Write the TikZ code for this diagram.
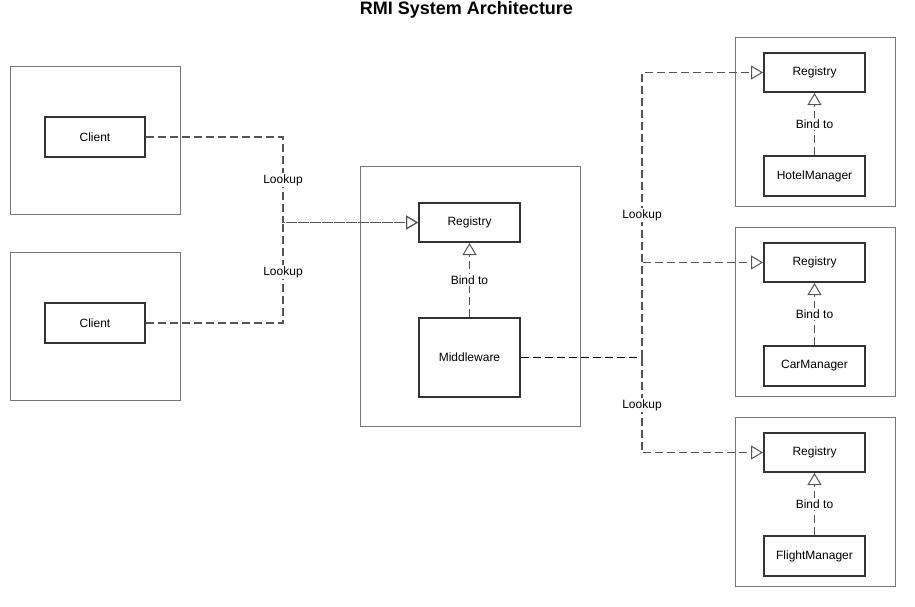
\documentclass[tikz,border=0pt]{standalone}
\usepackage{fontspec}
\setmainfont{Liberation Sans}
\usetikzlibrary{arrows.meta}
\definecolor{outerc}{HTML}{777777}
\definecolor{innerc}{HTML}{333333}
\definecolor{linec}{HTML}{555555}
\tikzset{
  outerbox/.style={draw=outerc, line width=1pt, fill=none, inner sep=0pt},
  innerbox/.style={draw=innerc, line width=2pt, fill=white, inner sep=0pt, font=\fontsize{12}{14}\selectfont},
  lookline/.style={draw=linec, line width=1.4pt, dash pattern=on 8pt off 4pt},
  midline/.style={draw=black, line width=1.6pt, dash pattern=on 8pt off 4pt},
  bindline/.style={draw=linec, line width=1.4pt, dash pattern=on 8pt off 4pt},
  opentip/.style={-{Triangle[open, length=12pt, width=14pt, line width=1pt]}},
  lbl/.style={fill=white, inner sep=1.5pt, font=\fontsize{12}{14}\selectfont, text=black},
}
\begin{document}
\begin{tikzpicture}[x=1pt, y=-1pt]
\useasboundingbox (0,0) rectangle (915,606);
% title
\node[font=\bfseries\fontsize{18}{20}\selectfont] (title) at (466.5,10) {RMI System Architecture};
% outer boxes
\node[outerbox, minimum width=170pt, minimum height=148pt] (c1o) at (95,140) {};
\node[outerbox, minimum width=170pt, minimum height=148pt] (c2o) at (95,326) {};
\node[outerbox, minimum width=220pt, minimum height=260pt] (mo) at (470,296) {};
\node[outerbox, minimum width=160pt, minimum height=169pt] (h1o) at (815,121.5) {};
\node[outerbox, minimum width=160pt, minimum height=169pt] (h2o) at (815,311.5) {};
\node[outerbox, minimum width=160pt, minimum height=169pt] (h3o) at (815,501.5) {};
% inner boxes
\node[innerbox, minimum width=100pt, minimum height=40pt] (c1) at (95,137) {Client};
\node[innerbox, minimum width=100pt, minimum height=40pt] (c2) at (95,323) {Client};
\node[innerbox, minimum width=101pt, minimum height=39pt] (mreg) at (469.5,222.5) {Registry};
\node[innerbox, minimum width=101pt, minimum height=79pt] (mw) at (469.5,357.5) {Middleware};
\node[innerbox, minimum width=101pt, minimum height=39pt] (r1) at (814.5,72.5) {Registry};
\node[innerbox, minimum width=101pt, minimum height=40pt] (hm) at (814.5,176) {HotelManager};
\node[innerbox, minimum width=101pt, minimum height=39pt] (r2) at (814.5,262.5) {Registry};
\node[innerbox, minimum width=101pt, minimum height=40pt] (cm) at (814.5,366) {CarManager};
\node[innerbox, minimum width=101pt, minimum height=39pt] (r3) at (814.5,452.5) {Registry};
\node[innerbox, minimum width=101pt, minimum height=40pt] (fm) at (814.5,556) {FlightManager};
% junctions
\coordinate (jl) at (283,222.5);
\coordinate (jr) at (642,357.5);
% client lookups
\draw[lookline, opentip] (c1.east) -| (jl) -- (mreg.west);
\draw[lookline, opentip] (c2.east) -| (jl) -- (mreg.west);
\node[lbl] (lk1) at (283,180) {Lookup};
\node[lbl] (lk2) at (283,272) {Lookup};
% middleware lookups
\draw[midline] (mw.east) -- (jr);
\draw[lookline, opentip] (jr) |- (r1.west);
\draw[lookline, opentip] (jr) |- (r2.west);
\draw[lookline, opentip] (jr) |- (r3.west);
\node[lbl] (lk3) at (642,215) {Lookup};
\node[lbl] (lk4) at (642,405) {Lookup};
% bind to
\draw[bindline, opentip] (mw.north) -- (mreg.south);
\draw[bindline, opentip] (hm.north) -- (r1.south);
\draw[bindline, opentip] (cm.north) -- (r2.south);
\draw[bindline, opentip] (fm.north) -- (r3.south);
\node[lbl] (b0) at (469.5,280) {Bind to};
\node[lbl] (b1) at (814.5,124) {Bind to};
\node[lbl] (b2) at (814.5,314) {Bind to};
\node[lbl] (b3) at (814.5,504) {Bind to};
\end{tikzpicture}
\end{document}
